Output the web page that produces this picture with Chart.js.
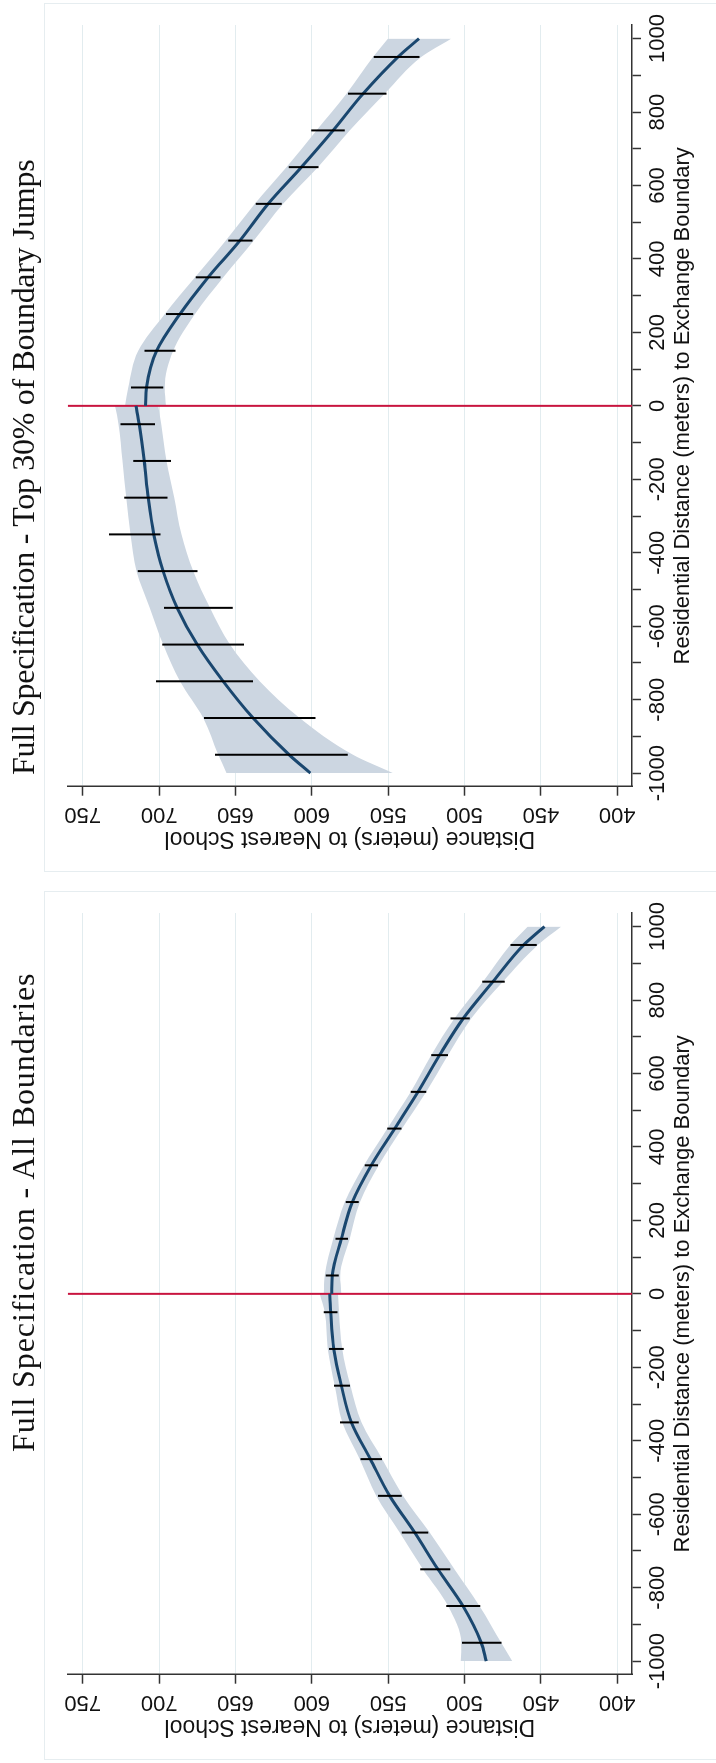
<!DOCTYPE html>
<html lang="en">
<head>
<meta charset="utf-8">
<script src="https://cdn.jsdelivr.net/npm/chart.js@4.4.1/dist/chart.umd.min.js"></script>
<style>
  html, body { margin: 0; padding: 0; background: #fff; }
  body { width: 716px; height: 1763px; overflow: hidden; position: relative; }
  .panel { position: absolute; left: 0; width: 716px; height: 875px; }
  .frame { position: absolute; left: 44px; top: 3px; width: 720px; height: 869px; border: 1px solid #e6edf0; box-sizing: border-box; }
  /* each chart is drawn upright and then turned a quarter turn to the left */
  .rot { position: absolute; left: 0; top: 875px; width: 875px; height: 716px; transform-origin: 0 0; transform: rotate(-90deg); }
  .rot canvas { position: absolute; left: 0; top: 0; }
  .title { position: absolute; top: 6.5px; font-family: 'Liberation Serif', serif; font-size: 32px; line-height: 32px; letter-spacing: 0.9px; white-space: nowrap; color: #111; }
</style>
</head>
<body>
<div class="panel" style="top:0px">
  <div class="frame"></div>
  <div class="rot">
    <canvas id="chartTop" width="875" height="716"></canvas>
    <div class="title" style="left:100px; letter-spacing:-0.3px">Full Specification - Top 30% of Boundary Jumps</div>
  </div>
</div>
<div class="panel" style="top:888px">
  <div class="frame"></div>
  <div class="rot">
    <canvas id="chartAll" width="875" height="716"></canvas>
    <div class="title" style="left:311px">Full Specification - All Boundaries</div>
  </div>
</div>

<script>
    // distance to the exchange boundary (m) where the fit and its band are read
    const distNeg = [-1000, -950, -850, -750, -650, -550, -450, -350, -250, -150, -50, 0];
    const distPos = [0, 50, 150, 250, 350, 450, 550, 650, 750, 850, 950, 1000];
    // 100 m bins
    const binCenters = [-950, -850, -750, -650, -550, -450, -350, -250, -150, -50,
                        50, 150, 250, 350, 450, 550, 650, 750, 850, 950];

    // Full Specification - All Boundaries
    const allFitNeg = [485.7, 489.0, 501.0, 517.4, 532.6, 549.0, 561.6, 574.0, 580.6, 585.6, 587.6, 588.2];
    const allHiNeg  = [502.5, 502.1, 510.8, 527.2, 542.4, 557.7, 568.6, 580.0, 585.0, 589.5, 591.5, 594.8];
    const allLoNeg  = [468.7, 475.9, 490.1, 506.5, 522.8, 540.2, 553.8, 567.5, 574.7, 580.0, 582.1, 582.8];
    const allFitPos = [586.9, 586.5, 580.6, 573.4, 561.0, 545.7, 530.4, 516.3, 500.8, 481.4, 461.3, 447.6];
    const allHiPos  = [592.1, 591.5, 586.0, 578.4, 565.8, 550.5, 535.2, 521.7, 506.5, 487.9, 470.0, 458.5];
    const allLoPos  = [580.6, 581.3, 575.1, 568.4, 556.2, 540.9, 525.0, 510.8, 495.5, 474.8, 452.0, 436.7];
    const allBinLo  = [475.7, 489.7, 509.3, 523.7, 541.1, 554.0, 569.3, 574.9, 579.1, 583.2,
                       582.3, 576.2, 569.3, 556.6, 541.3, 525.0, 510.8, 496.6, 473.7, 452.6];
    const allBinHi  = [501.6, 511.9, 528.9, 541.1, 556.6, 568.0, 581.5, 585.4, 588.7, 592.1,
                       590.8, 584.5, 577.8, 565.3, 550.5, 535.2, 521.7, 509.1, 488.3, 469.8];

    // Full Specification - Top 30% of Boundary Jumps
    const topFitNeg = [600.9, 614.8, 638.4, 658.0, 675.0, 688.1, 697.3, 703.4, 707.1, 709.7, 713.0, 715.1];
    const topHiNeg  = [655.8, 661.3, 671.1, 686.3, 697.3, 706.0, 714.7, 718.6, 721.5, 723.9, 726.5, 728.9];
    const topLoNeg  = [546.8, 573.0, 607.8, 634.0, 653.6, 666.7, 677.6, 685.3, 690.0, 695.1, 698.5, 700.5];
    const topFitPos = [708.8, 708.2, 701.6, 686.3, 667.8, 647.1, 628.6, 606.8, 586.0, 566.4, 543.5, 529.8];
    const topHiPos  = [722.3, 720.1, 713.6, 696.2, 676.5, 656.3, 637.3, 616.6, 596.9, 577.3, 559.9, 550.1];
    const topLoPos  = [695.5, 696.2, 690.7, 676.5, 658.0, 638.0, 618.8, 595.9, 575.1, 552.2, 528.3, 508.6];
    const topBinLo  = [576.4, 597.6, 638.4, 644.3, 651.7, 674.8, 699.0, 694.4, 692.2, 702.7,
                       697.3, 689.2, 677.6, 659.7, 638.8, 619.6, 595.6, 578.4, 551.1, 529.4];
    const topBinHi  = [663.4, 670.6, 702.0, 697.9, 696.8, 714.0, 732.8, 722.8, 716.9, 725.2,
                       718.4, 709.5, 695.5, 675.9, 654.7, 636.6, 615.0, 600.4, 576.2, 559.4];

    // axes
    const schoolTicks = [400, 450, 500, 550, 600, 650, 700, 750];
    const boundaryTicks = [-1000, -900, -800, -700, -600, -500, -400, -300, -200, -100, 0,
                           100, 200, 300, 400, 500, 600, 700, 800, 900, 1000];
    const boundaryLabelStep = 200;
    const schoolMin = 390.3, schoolMax = 759.8;
    const boundaryMin = -1037, boundaryMax = 1037;
    const boundaryLine = 0;

    const NAVY = '#1a476f';
    const BAND = '#ccd6e1';
    const RED = '#c8143f';
    const AXIS = '#333333';
    const GRID = '#e2ecef';
    const TEXT = '#111111';

    Chart.defaults.font.family = "'Liberation Sans', Arial, sans-serif";

    function pts(xs, ys) {
        return xs.map((x, i) => ({ x: x, y: ys[i] }));
    }

    // each bin becomes a short segment, split from the next one by a gap
    function binSegments(lo, hi) {
        let out = [];
        binCenters.forEach((c, i) => {
            out.push({ x: c, y: lo[i] }, { x: c, y: hi[i] }, { x: c, y: null });
        });
        return out;
    }

    function band(data, fill) {
        return { data: data, fill: fill, backgroundColor: BAND, borderWidth: 0, pointRadius: 0,
                 cubicInterpolationMode: 'monotone', order: 10 };
    }

    function fitLine(data) {
        return { data: data, fill: false, borderColor: NAVY, borderWidth: 3, pointRadius: 0,
                 cubicInterpolationMode: 'monotone', order: 1 };
    }

    function BuildChart(id, d) {
        const axisFont = { size: 22 };
        return new Chart(document.getElementById(id), {
            type: 'line',
            data: {
                datasets: [
                    band(pts(distNeg, d.hiNeg), '+1'),
                    band(pts(distNeg, d.loNeg), false),
                    band(pts(distPos, d.hiPos), '+1'),
                    band(pts(distPos, d.loPos), false),
                    { data: [{ x: boundaryLine, y: schoolMin }, { x: boundaryLine, y: schoolMax }],
                      borderColor: RED, borderWidth: 2, pointRadius: 0, fill: false, order: 5 },
                    fitLine(pts(distNeg, d.fitNeg)),
                    fitLine(pts(distPos, d.fitPos)),
                    { data: binSegments(d.binLo, d.binHi), borderColor: '#000', borderWidth: 2,
                      pointRadius: 0, fill: false, spanGaps: false, order: 0 }
                ]
            },
            options: {
                responsive: false,
                animation: false,
                events: [],
                layout: { padding: { left: 0, right: 25, top: 67.7, bottom: 0 } },
                plugins: {
                    legend: { display: false },
                    tooltip: { enabled: false },
                    filler: { drawTime: 'beforeDatasetsDraw' }
                },
                scales: {
                    x: {
                        type: 'linear', position: 'bottom', bounds: 'data',
                        min: boundaryMin, max: boundaryMax,
                        afterBuildTicks: s => { s.ticks = boundaryTicks.map(v => ({ value: v })); },
                        afterFit: s => { s.height = 84; },
                        ticks: {
                            autoSkip: false, minRotation: 0, maxRotation: 0, padding: 4,
                            color: TEXT, font: axisFont,
                            callback: v => (v % boundaryLabelStep === 0 ? String(v) : '')
                        },
                        grid: { drawOnChartArea: false, drawTicks: true, tickLength: 9,
                                tickColor: AXIS, tickWidth: 1.5 },
                        border: { display: true, color: AXIS, width: 1.5 },
                        title: { display: true, text: 'Residential Distance (meters) to Exchange Boundary',
                                 color: TEXT, font: axisFont, padding: { top: 0, bottom: 19.8 } }
                    },
                    y: {
                        type: 'linear', position: 'left', bounds: 'data',
                        min: schoolMin, max: schoolMax,
                        afterBuildTicks: s => { s.ticks = schoolTicks.map(v => ({ value: v })); },
                        afterFit: s => { s.width = 88.3; },
                        ticks: {
                            autoSkip: false, minRotation: 90, maxRotation: 90, crossAlign: 'center',
                            padding: 0, color: TEXT, font: axisFont,
                            callback: v => String(v)
                        },
                        grid: { color: GRID, lineWidth: 1, tickLength: 9, tickColor: AXIS, tickWidth: 1.5 },
                        border: { display: true, color: AXIS, width: 1.5 },
                        title: { display: true, text: 'Distance (meters) to Nearest School',
                                 color: TEXT, font: { size: 23 }, padding: { top: 22.6, bottom: 0 } }
                    }
                }
            }
        });
    }

    BuildChart('chartTop', {
        fitNeg: topFitNeg, hiNeg: topHiNeg, loNeg: topLoNeg,
        fitPos: topFitPos, hiPos: topHiPos, loPos: topLoPos,
        binLo: topBinLo, binHi: topBinHi
    });
    BuildChart('chartAll', {
        fitNeg: allFitNeg, hiNeg: allHiNeg, loNeg: allLoNeg,
        fitPos: allFitPos, hiPos: allHiPos, loPos: allLoPos,
        binLo: allBinLo, binHi: allBinHi
    });
</script>
</body>
</html>
